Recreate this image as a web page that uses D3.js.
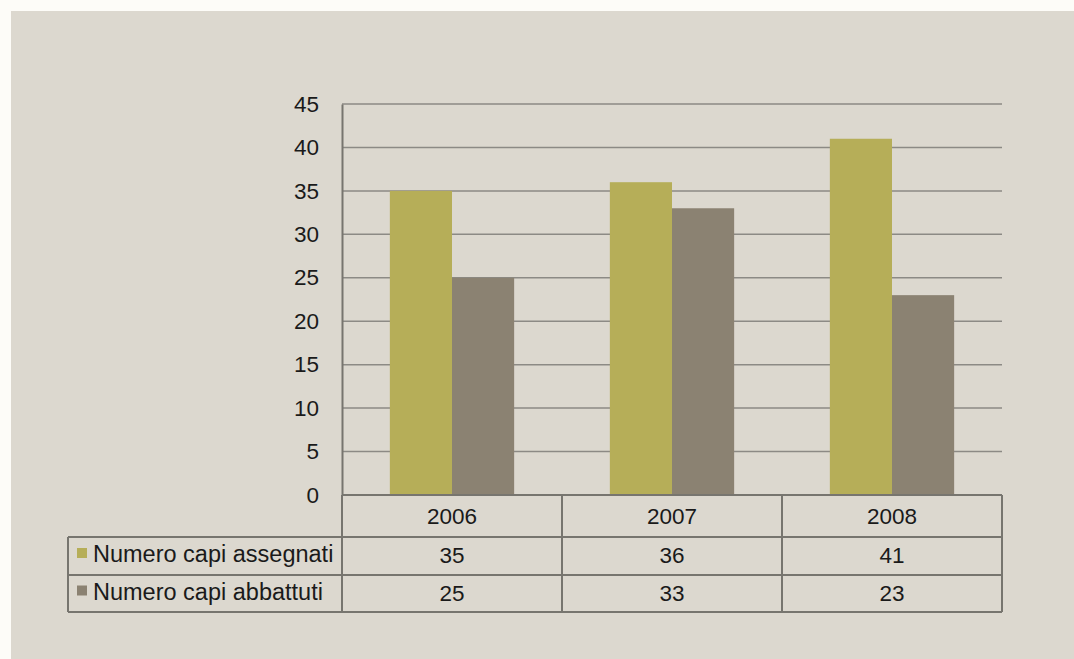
<!DOCTYPE html>
<html><head><meta charset="utf-8">
<script src="https://cdn.jsdelivr.net/npm/d3@7"></script>
<style>
html,body{margin:0;padding:0;background:#fdfcf8;}
svg{display:block;}
text{font-family:"Liberation Sans",Arial,sans-serif;fill:#1a1a1a;}
</style></head>
<body>
<svg id="c" width="1074" height="659"></svg>
<script>
const categories = ["2006", "2007", "2008"];
const seriesNames = ["Numero capi assegnati", "Numero capi abbattuti"];
const assegnati = [35, 36, 41];
const abbattuti = [25, 33, 23];
const yTicks = [0, 5, 10, 15, 20, 25, 30, 35, 40, 45];
const colors = ["#b6ae58", "#8b8272"];

(function () {
const FS = 22.5;
const svg = d3.select("#c");
svg.append("rect").attr("x", 11).attr("y", 11).attr("width", 1063).attr("height", 648).attr("fill", "#dcd8cf");

const pL = 342, pR = 1002, pT = 104, pB = 495;
const x = d3.scaleBand().domain(categories).range([pL, pR]).paddingInner(0).paddingOuter(0);
const y = d3.scaleLinear().domain([0, 45]).range([pB, pT]);
const xs = d3.scaleBand().domain([0, 1]).range([0, x.bandwidth()]).paddingInner(0).paddingOuter(0.77);

// gridlines
svg.append("g").selectAll("line").data(yTicks.filter(d => d > 0)).join("line")
  .attr("x1", pL).attr("x2", pR).attr("y1", d => y(d)).attr("y2", d => y(d))
  .attr("stroke", "#8c8a85").attr("stroke-width", 1.5);

// y axis
const yAxis = d3.axisLeft(y).tickValues(yTicks).tickSize(0).tickPadding(23);
const ya = svg.append("g").attr("transform", `translate(${pL},0)`).call(yAxis);
ya.select(".domain").attr("stroke", "#77756f").attr("stroke-width", 2);
ya.selectAll("text").attr("font-size", FS).style("font-family", '"Liberation Sans",Arial,sans-serif').attr("fill", "#1a1a1a");

const series = [assegnati, abbattuti];
series.forEach((vals, si) => {
  svg.append("g").selectAll("rect").data(vals).join("rect")
    .attr("x", (d, i) => x(categories[i]) + xs(si))
    .attr("width", xs.bandwidth())
    .attr("y", d => y(d))
    .attr("height", d => y(0) - y(d))
    .attr("fill", colors[si]);
});

// data table
const rowH = [42, 38, 37];
const rowY = [pB, pB + rowH[0], pB + rowH[0] + rowH[1], pB + rowH[0] + rowH[1] + rowH[2]];
const legLeft = 68;
const tg = svg.append("g").attr("fill", "none").attr("stroke", "#77756f").attr("stroke-width", 2);
tg.append("line").attr("x1", pL).attr("x2", pR).attr("y1", rowY[0]).attr("y2", rowY[0]);
[1, 2, 3].forEach(r => tg.append("line").attr("x1", legLeft).attr("x2", pR).attr("y1", rowY[r]).attr("y2", rowY[r]));
tg.append("line").attr("x1", legLeft).attr("x2", legLeft).attr("y1", rowY[1]).attr("y2", rowY[3]);
tg.append("line").attr("x1", pL).attr("x2", pL).attr("y1", rowY[0]).attr("y2", rowY[3]);
categories.forEach(c => {
  const xr = x(c) + x.bandwidth();
  tg.append("line").attr("x1", xr).attr("x2", xr).attr("y1", rowY[0]).attr("y2", rowY[3]);
});

svg.append("g").selectAll("text").data(categories).join("text")
  .attr("x", d => x(d) + x.bandwidth() / 2).attr("y", (rowY[0] + rowY[1]) / 2 + 8)
  .attr("text-anchor", "middle").attr("font-size", FS).text(d => d);

series.forEach((vals, si) => {
  const cy = (rowY[si + 1] + rowY[si + 2]) / 2;
  svg.append("g").selectAll("text").data(vals).join("text")
    .attr("x", (d, i) => x(categories[i]) + x.bandwidth() / 2).attr("y", cy + 7)
    .attr("text-anchor", "middle").attr("font-size", FS).text(d => d);
  svg.append("rect").attr("x", 77).attr("y", cy - 8).attr("width", 10).attr("height", 10).attr("fill", colors[si]);
  svg.append("text").attr("x", 93).attr("y", cy + 6).attr("font-size", 23.5).text(seriesNames[si]);
});
})();
</script>
</body></html>
